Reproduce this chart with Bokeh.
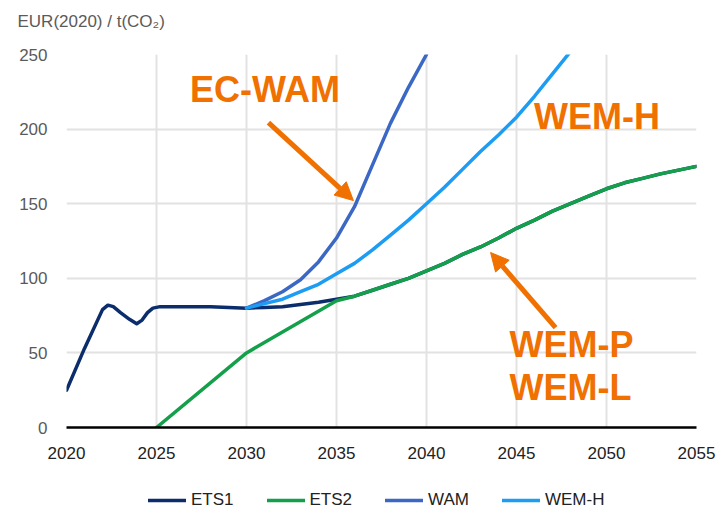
from bokeh.plotting import figure
from bokeh.layouts import column
from bokeh.models import Range1d, FixedTicker, Label, Arrow, NormalHead, Legend, LegendItem
from bokeh.embed import file_html
from bokeh.resources import INLINE

# ---- data ----
ets1_years = [2020, 2021, 2022, 2022.3, 2022.6, 2023, 2023.5, 2023.9, 2024.2, 2024.5, 2024.8, 2025.2,
              2026, 2028, 2030, 2031, 2032, 2033, 2034, 2035, 2036, 2037, 2038, 2039, 2040,
              2041, 2042, 2043, 2044, 2045, 2046, 2047, 2048, 2049, 2050, 2051, 2052, 2053, 2054, 2055]
ets1_vals = [25, 53, 79, 82, 81, 77, 72.5, 69.5, 72, 77, 80, 81,
             81, 81, 80, 80.5, 81, 82.5, 84, 86, 88, 92, 96, 100, 105,
             110, 116, 121, 127, 133.5, 139, 145, 150, 155, 160, 164, 167, 170, 172.5, 175]

ets2_years = [2025, 2030, 2035, 2036, 2037, 2038, 2039, 2040, 2041, 2042, 2043, 2044, 2045,
              2046, 2047, 2048, 2049, 2050, 2051, 2052, 2053, 2054, 2055]
ets2_vals = [0, 50, 85, 88, 92, 96, 100, 105, 110, 116, 121, 127, 133.5,
             139, 145, 150, 155, 160, 164, 167, 170, 172.5, 175]

wam_years = [2030, 2031, 2032, 2033, 2034, 2035, 2036, 2037, 2038, 2039, 2040]
wam_vals = [80, 85, 91, 99, 111, 127, 148, 176, 204, 228, 250]

wemh_years = [2030, 2031, 2032, 2033, 2034, 2035, 2036, 2037, 2038, 2039, 2040,
              2041, 2042, 2043, 2044, 2045, 2046, 2047, 2048]
wemh_vals = [80, 83, 86, 91, 96, 103, 110, 119, 129, 139, 150,
             161, 173, 185, 196, 208, 222, 237, 252]

x_ticks = [2020, 2025, 2030, 2035, 2040, 2045, 2050, 2055]
y_ticks = [0, 50, 100, 150, 200, 250]
series_names = ["ETS1", "ETS2", "WAM", "WEM-H"]
y_unit = "EUR(2020) / t(CO\u2082)"

# ---- styling ----
COLORS = ["#0c2d6b", "#14a04b", "#3b68c4", "#1c9cf2"]
ORANGE = "#f07000"
FONT = "Liberation Sans"
LINE = dict(line_width=3.5, line_join="round", line_cap="round")

p = figure(width=725, height=480, output_backend="svg", toolbar_location=None,
           x_range=Range1d(2020, 2055), y_range=Range1d(0, 250),
           min_border_left=66, min_border_top=54, min_border_right=29, min_border_bottom=53)
p.outline_line_color = None
p.background_fill_color = "white"
p.border_fill_color = "white"

p.title.text = y_unit + "\n"
p.title.align = "left"
p.title.vertical_align = "bottom"
p.title.offset = -49
p.title.standoff = 9
p.title.text_font = FONT
p.title.text_font_size = "17px"
p.title.text_font_style = "normal"
p.title.text_color = "#5a5a5a"

p.xaxis.ticker = FixedTicker(ticks=x_ticks)
p.yaxis.ticker = FixedTicker(ticks=y_ticks)
p.xgrid.ticker = FixedTicker(ticks=x_ticks[1:-1])
p.ygrid.ticker = FixedTicker(ticks=y_ticks[1:])
p.xgrid.grid_line_color = "#e2e2e2"
p.ygrid.grid_line_color = "#e2e2e2"
p.xgrid.grid_line_width = 2
p.ygrid.grid_line_width = 2

p.xaxis.axis_line_color = "black"
p.xaxis.axis_line_width = 2.5
p.xaxis.major_tick_line_color = None
p.xaxis.minor_tick_line_color = None
p.xaxis.major_tick_out = 0
p.xaxis.major_label_standoff = 19
p.xaxis.major_label_text_font = FONT
p.xaxis.major_label_text_font_size = "17px"
p.xaxis.major_label_text_color = "#222222"

p.yaxis.axis_line_color = None
p.yaxis.major_tick_line_color = None
p.yaxis.minor_tick_line_color = None
p.yaxis.major_tick_out = 0
p.yaxis.major_label_standoff = 19
p.yaxis.major_label_text_font = FONT
p.yaxis.major_label_text_font_size = "17px"
p.yaxis.major_label_text_color = "#5a5a5a"

series = [(ets1_years, ets1_vals), (ets2_years, ets2_vals), (wam_years, wam_vals), (wemh_years, wemh_vals)]
for (xs, ys), c in zip(series, COLORS):
    p.line(xs, ys, line_color=c, **LINE)

# annotations
def ann(x, y, t):
    p.add_layout(Label(x=x, y=y, text=t, text_font=FONT, text_font_style="bold",
                       text_font_size="36px", text_color=ORANGE, text_baseline="alphabetic"))

ann(2026.86, 226.7, "EC-WAM")
ann(2045.97, 208.2, "WEM-H")
ann(2044.61, 55.8, "WEM-P")
ann(2044.61, 26.8, "WEM-L")

p.add_layout(Arrow(x_start=2031.22, y_start=204.4, x_end=2035.94, y_end=152.1,
                   line_color=ORANGE, line_width=5,
                   end=NormalHead(size=18, fill_color=ORANGE, line_color=ORANGE)))
p.add_layout(Arrow(x_start=2047.17, y_start=67.0, x_end=2043.56, y_end=117.3,
                   line_color=ORANGE, line_width=5,
                   end=NormalHead(size=18, fill_color=ORANGE, line_color=ORANGE)))

# legend strip below the chart
nan = float("nan")
lg = figure(width=725, height=31, output_backend="svg", toolbar_location=None,
            x_axis_type=None, y_axis_type=None, x_range=Range1d(0, 1), y_range=Range1d(0, 1),
            min_border=0)
lg.outline_line_color = None
lg.grid.visible = False
items = []
for name, c in zip(series_names, COLORS):
    r = lg.line([nan], [nan], line_color=c, **LINE)
    items.append(LegendItem(label=name, renderers=[r]))
legend = Legend(items=items, orientation="horizontal", location=(82, 1),
                glyph_width=38, glyph_height=20, label_height=20, label_standoff=5, spacing=33,
                padding=0, margin=0, border_line_color=None, background_fill_alpha=0,
                label_text_font=FONT, label_text_font_size="17px", label_text_color="#222222")
lg.add_layout(legend)

open("out.html", "w").write(file_html(column(p, lg, spacing=0), INLINE))
